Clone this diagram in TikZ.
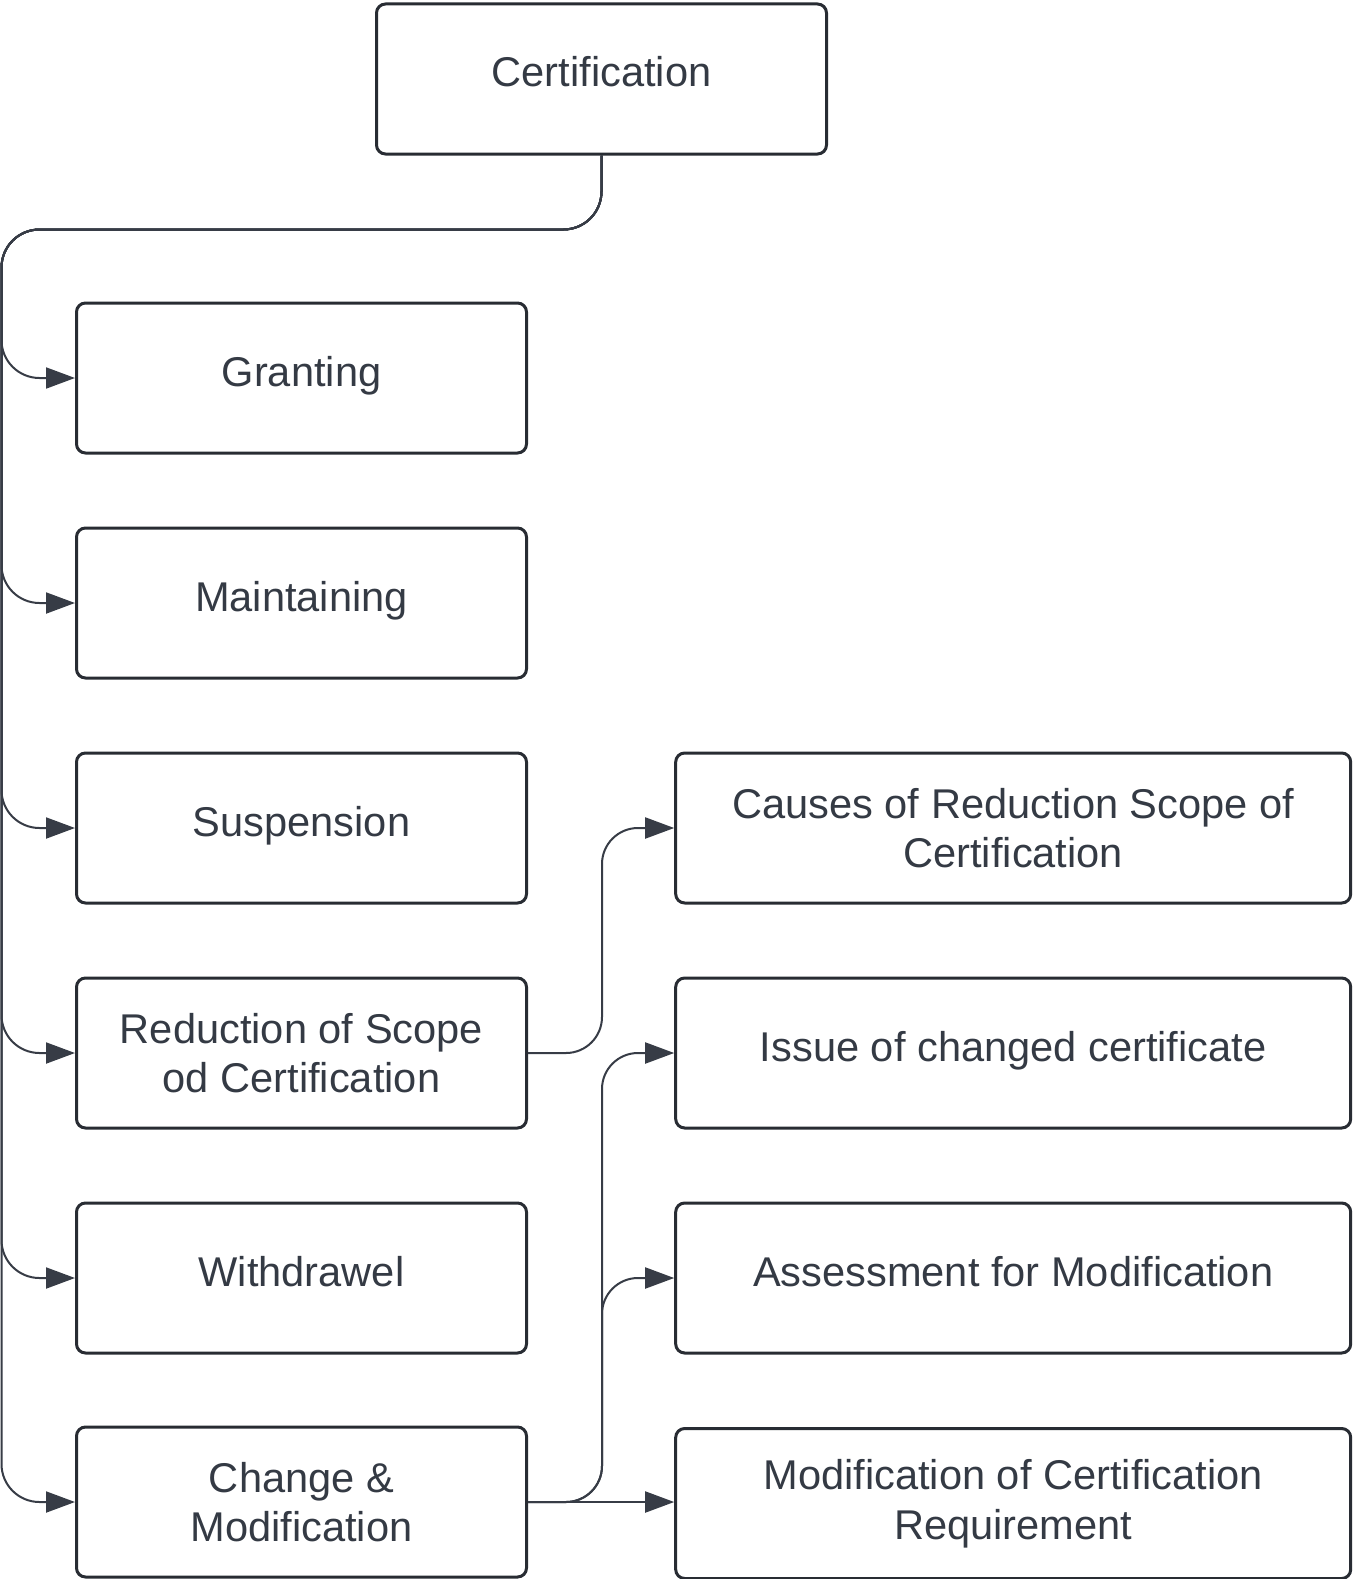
\documentclass[tikz,border=0pt]{standalone}
\usepackage{fontspec}
\setmainfont{Liberation Sans}
\usetikzlibrary{arrows.meta}
\definecolor{txt}{RGB}{52,58,68}
\definecolor{edge}{RGB}{40,44,51}
\definecolor{conncol}{RGB}{55,60,70}
\begin{document}
\begin{tikzpicture}[x=1pt,y=-1pt,
  box/.style={draw=edge,line width=3pt,rounded corners=9pt,minimum width=450pt,minimum height=150pt,
    inner sep=0pt,align=center,text=txt,font=\fontsize{41.6}{49.5}\selectfont},
  one/.style={text height=31pt,text depth=13.5pt},
  wbox/.style={box,minimum width=675pt},
  conn/.style={draw=conncol,line width=2pt,rounded corners=38pt,-{Triangle[length=29pt,width=21pt]}}]
\useasboundingbox (0,0) rectangle (1352,1579);
\node[box,text height=31pt,text depth=17pt] (cert) at (601.5,79) {Certification};
\node[box,one] (grant) at (301.5,378) {Granting};
\node[box,one] (maint) at (301.5,603) {Maintaining};
\node[box,one] (susp) at (301.5,828) {Suspension};
\node[box] (red) at (301.5,1053) {Reduction of Scope\\od Certification};
\node[box,one] (withd) at (301.5,1278) {Withdrawel};
\node[box] (chg) at (301.5,1502) {Change \&\\Modification};
\node[wbox] (causes) at (1013.2,828) {Causes of Reduction Scope of\\Certification};
\node[wbox,one] (issue) at (1013.2,1053) {Issue of changed certificate};
\node[wbox,one] (assess) at (1013.2,1278) {Assessment for Modification};
\node[wbox] (modreq) at (1013.2,1503.5) {Modification of Certification\\Requirement};
\coordinate (tl) at (1.5,229.5);
\coordinate (bx) at (602,0);
\foreach \b in {grant,maint,susp,red,withd,chg}{
  \draw[conn] (cert.south) |- (tl) |- (\b.west);
}
\draw[conn,rounded corners=36pt] (red.east) -| (bx |- causes.west) -- (causes.west);
\draw[conn,rounded corners=36pt] (chg.east) -| (bx |- issue.west) -- (issue.west);
\draw[conn,rounded corners=36pt] (chg.east) -| (bx |- assess.west) -- (assess.west);
\draw[conn] (chg.east) -- (chg.east -| modreq.west);
\end{tikzpicture}
\end{document}
